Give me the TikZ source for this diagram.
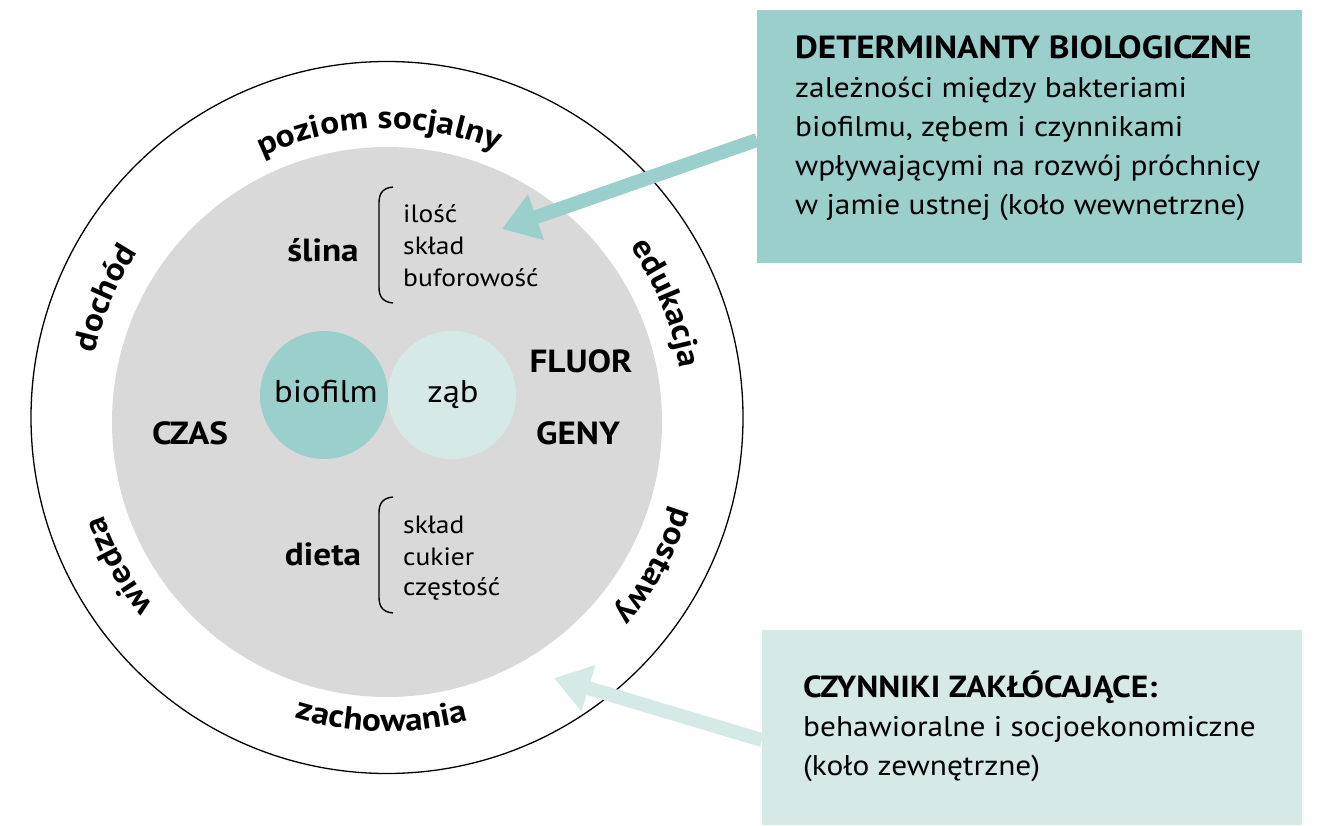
\documentclass[tikz,border=0pt]{standalone}
\usepackage{fontspec}
\setmainfont{PT Sans}[FakeStretch=1.1]
\usetikzlibrary{arrows.meta,decorations.text,calc}
\definecolor{tealA}{HTML}{9BCFCC}
\definecolor{tealB}{HTML}{D5EAE7}
\definecolor{grayC}{HTML}{D9D9D9}
\newcommand{\ringfont}{\fontsize{32}{32}\selectfont\bfseries}
\begin{document}
\begin{tikzpicture}[x=1pt,y=1pt,
  ringtext/.style={decorate, decoration={text along path, text align=center, text={|\ringfont|#1}}},
  biglab/.style={font=\fontsize{32}{32}\selectfont\bfseries, anchor=base, inner sep=0},
  circlab/.style={font=\fontsize{31.5}{31.5}\selectfont, anchor=base, inner sep=0},
  listlab/.style={font=\fontsize{25}{25}\selectfont, anchor=base west, inner sep=0},
  boxtitle/.style={font=\fontsize{#1}{#1}\selectfont\bfseries, anchor=base west, inner sep=0},
  boxline/.style={font=\fontsize{28.5}{28.5}\selectfont, anchor=base west, inner sep=0},
  brace/.style={line width=1.4pt},
  bigarrow/.style={line width=14pt, -{Triangle[length=36pt,width=46pt]}}
]
\useasboundingbox (0,0) rectangle (1321,825);
\coordinate (C) at (387,407.5);
% circles
\node[circle, draw=black, line width=1.3pt, minimum size=712pt, inner sep=0] (outer) at (C) {};
\node[circle, fill=grayC, minimum size=550pt, inner sep=0] (inner) at (387,403) {};
\node[circle, fill=tealB, minimum size=128pt, inner sep=0] (zab) at (452,430) {};
\node[circle, fill=tealA, minimum size=128pt, inner sep=0] (bio) at (324,430) {};
\node[circlab] (biot) at (326,422) {biofilm};
\node[circlab] (zabt) at (453,422) {ząb};
% inner labels
\node[biglab] (fluor) at (581,452) {FLUOR};
\node[biglab] (geny) at (578,380) {GENY};
\node[biglab] (czas) at (190,380) {CZAS};
\node[biglab] (slina) at (323,563) {ślina};
\node[biglab] (dieta) at (323,260) {dieta};
\node[listlab] (l1) at (403,602) {ilość};
\node[listlab] (l2) at (403,570) {skład};
\node[listlab] (l3) at (403,538) {buforowość};
\node[listlab] (l4) at (403,292) {skład};
\node[listlab] (l5) at (403,260) {cukier};
\node[listlab] (l6) at (403,230) {częstość};
% brackets
\coordinate (b1t) at (393,638);
\coordinate (b1b) at (393,522);
\coordinate (b2t) at (393,328);
\coordinate (b2b) at (393,212);
\draw[brace] (b1t) .. controls (383,637) and (379,632) .. (379,622) -- (379,538) .. controls (379,528) and (383,523) .. (b1b);
\draw[brace] (b2t) .. controls (383,327) and (379,322) .. (379,312) -- (379,228) .. controls (379,218) and (383,213) .. (b2b);
% ring labels
\path[ringtext=poziom socjalny] ($(C)+(151.6:289)$) arc[start angle=151.6, end angle=31.6, radius=289];
\path[ringtext=edukacja] ($(C)+(82.3:297)$) arc[start angle=82.3, end angle=-37.7, radius=297];
\path[ringtext=dochód] ($(C)+(217:299)$) arc[start angle=217, end angle=97, radius=299];
\path[ringtext=wiedza] ($(C)+(269:300)$) arc[start angle=269, end angle=149, radius=300];
\path[ringtext=postawy] ($(C)+(391:301)$) arc[start angle=391, end angle=271, radius=301];
\path[ringtext=zachowania] ($(C)+(209:314)$) arc[start angle=209, end angle=329, radius=314];
% boxes
\node[fill=tealA, minimum width=545pt, minimum height=253pt, inner sep=0, anchor=north west] (boxA) at (757,815) {};
\node[fill=tealB, minimum width=540pt, minimum height=195pt, inner sep=0, anchor=north west] (boxB) at (762,195) {};
% arrows
\coordinate (a1s) at (757,685);
\coordinate (a1e) at (502,596);
\coordinate (a2s) at (762,85);
\coordinate (a2e) at (554,147);
\draw[bigarrow, tealA] (a1s) -- (a1e);
\draw[bigarrow, tealB] (a2s) -- (a2e);
% box texts
\node[boxtitle=32] (t1) at (795,766) {DETERMINANTY BIOLOGICZNE};
\node[boxline] (t2) at (795,727) {zależności między bakteriami};
\node[boxline] (t3) at (795,688) {biofilmu, zębem i czynnikami};
\node[boxline] (t4) at (795,649) {wpływającymi na rozwój próchnicy};
\node[boxline] (t5) at (795,610) {w jamie ustnej (koło wewnetrzne)};
\node[boxtitle=30.5] (u1) at (803,128) {CZYNNIKI ZAKŁÓCAJĄCE:};
\node[boxline] (u2) at (803,89) {behawioralne i socjoekonomiczne};
\node[boxline] (u3) at (803,50) {(koło zewnętrzne)};
\end{tikzpicture}
\end{document}
